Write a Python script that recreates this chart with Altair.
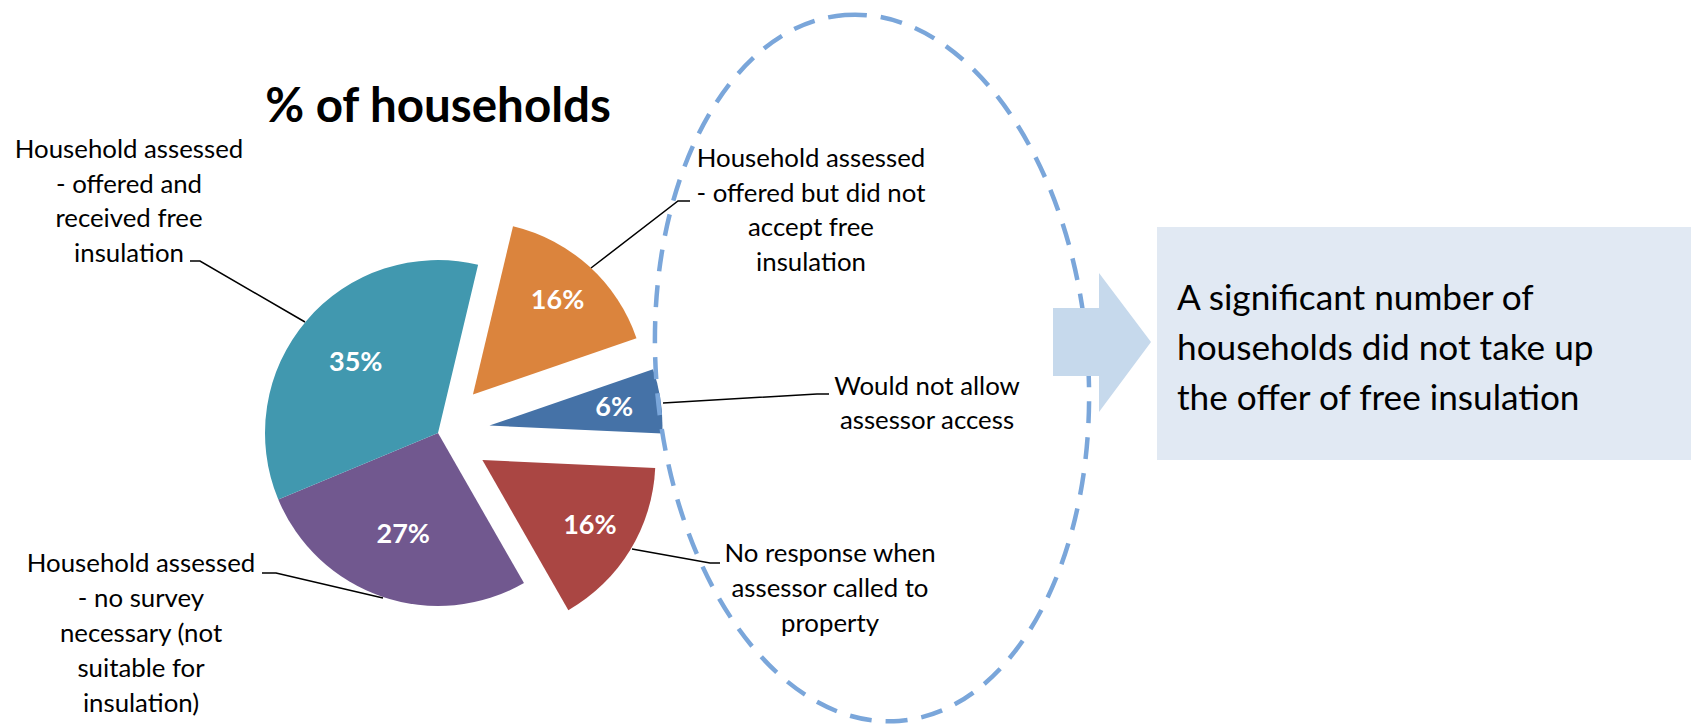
import math
import altair as alt
import pandas as pd

# ---------------- data ----------------
categories = [
    "Would not allow assessor access",
    "No response when assessor called to property",
    "Household assessed - no survey necessary (not suitable for insulation)",
    "Household assessed - offered and received free insulation",
    "Household assessed - offered but did not accept free insulation",
]
values = [6, 16, 27, 35, 16]
pct_labels = ["6%", "16%", "27%", "35%", "16%"]
exploded = [1, 1, 0, 0, 1]
colors = ["#4572A7", "#AA4643", "#71588F", "#4198AF", "#DB843D"]

label_lines = [
    ["Would not allow", "assessor access"],
    ["No response when", "assessor called to", "property"],
    ["Household assessed", "- no survey", "necessary (not", "suitable for", "insulation)"],
    ["Household assessed", "- offered and", "received free", "insulation"],
    ["Household assessed", "- offered but did not", "accept free", "insulation"],
]
title_text = "% of households"
callout_lines = ["A significant number of", "households did not take up", "the offer of free insulation"]

# ---------------- layout (pixels) ----------------
W, H = 1691, 726
CX, CY, R = 438, 433, 173
EXPLODE = 52
START = math.radians(71)
FONT = "Lato"

label_pos = [(927, 395), (830, 562), (141, 572), (129, 158), (811, 167)]
label_lh = [33.5, 35, 35, 34.7, 34.5]

leader_pts = [
    [(663, 403), (817, 394), (829, 394)],
    [(632, 549), (710, 563), (720, 563)],
    [(383, 598), (276, 573), (262, 573)],
    [(305, 322), (200, 261), (190, 261)],
    [(591, 268), (678, 201), (690, 201)],
]

# ---------------- pie ----------------
pie = pd.DataFrame({
    "idx": list(range(len(values))),
    "cat": categories,
    "value": values,
    "pct": pct_labels,
    "explode": exploded,
})

base = (
    alt.Chart(pie)
    .transform_window(cum="sum(value)", sort=[alt.SortField("idx")], frame=[None, 0])
    .transform_joinaggregate(total="sum(value)")
    .transform_calculate(mid=f"{START} + 2*PI*(datum.cum - datum.value/2)/datum.total")
    .transform_calculate(cx=f"{CX} + datum.explode*{EXPLODE}*sin(datum.mid)")
    .transform_calculate(cy=f"{CY} - datum.explode*{EXPLODE}*cos(datum.mid)")
    .transform_calculate(lr="108 + datum.explode*18")
    .transform_calculate(lx="datum.cx + datum.lr*sin(datum.mid)")
    .transform_calculate(ly="datum.cy - datum.lr*cos(datum.mid)")
)

theta = alt.Theta("value:Q", stack=True,
                  scale=alt.Scale(domain=[0, sum(values)], range=[START, START + 2 * math.pi]))

arcs = base.mark_arc(radius=R).encode(
    theta=theta,
    order=alt.Order("idx:Q"),
    color=alt.Color("cat:N", scale=alt.Scale(domain=categories, range=colors), legend=None),
    x=alt.X("cx:Q", scale=None, axis=None),
    y=alt.Y("cy:Q", scale=None, axis=None),
)

pct_text = base.mark_text(font=FONT, fontWeight="bold", fontSize=27, color="white",
                          align="center", baseline="middle").encode(
    text="pct:N",
    x=alt.X("lx:Q", scale=None, axis=None),
    y=alt.Y("ly:Q", scale=None, axis=None),
)

# ---------------- leader lines ----------------
lrows = []
for g, pts in enumerate(leader_pts):
    for s, (px, py) in enumerate(pts):
        lrows.append({"g": g, "s": s, "px": px, "py": py})
leaders = alt.Chart(pd.DataFrame(lrows)).mark_line(color="black", strokeWidth=1.5).encode(
    x=alt.X("px:Q", scale=None, axis=None),
    y=alt.Y("py:Q", scale=None, axis=None),
    detail="g:N",
    order="s:Q",
)

# ---------------- category labels ----------------
label_layers = []
for lines, (lx, ly), lh in zip(label_lines, label_pos, label_lh):
    label_layers.append(
        alt.Chart(pd.DataFrame({"t": ["\n".join(lines)], "px": [lx], "py": [ly]}))
        .mark_text(font=FONT, fontSize=25.8, lineBreak="\n", lineHeight=lh,
                   align="center", baseline="alphabetic", color="black")
        .encode(x=alt.X("px:Q", scale=None, axis=None), y=alt.Y("py:Q", scale=None, axis=None), text="t:N")
    )

one = pd.DataFrame({"a": [0]})

# ---------------- dashed ellipse ----------------
RX, RY, K = 216, 354, 0.5523
ell_path = (
    f"M 0,{-RY} C {K*RX:.1f},{-RY} {RX},{-K*RY:.1f} {RX},0 "
    f"C {RX},{K*RY:.1f} {K*RX:.1f},{RY} 0,{RY} "
    f"C {-K*RX:.1f},{RY} {-RX},{K*RY:.1f} {-RX},0 "
    f"C {-RX},{-K*RY:.1f} {-K*RX:.1f},{-RY} 0,{-RY} Z"
)
ellipse = alt.Chart(one).mark_point(
    shape=ell_path, size=4, filled=False, color="#7AA6DA", stroke="#7AA6DA",
    strokeWidth=4.5, strokeDash=[22, 14], angle=355.6, opacity=1,
).encode(x=alt.value(872), y=alt.value(368))

# ---------------- arrow + callout box ----------------
arrow_path = "M -47,-34 L -1,-34 L -1,-69 L 51,0 L -1,70 L -1,34 L -47,34 Z"
arrow = alt.Chart(one).mark_point(
    shape=arrow_path, size=4, filled=True, color="#C6D9EC", opacity=1, strokeWidth=0,
).encode(x=alt.value(1100), y=alt.value(342))

box = alt.Chart(one).mark_rect(color="#E1E9F3").encode(
    x=alt.value(1157), x2=alt.value(W), y=alt.value(227), y2=alt.value(460)
)
callout = alt.Chart(one).mark_text(
    text=callout_lines, font=FONT, fontSize=35.2, lineHeight=50,
    align="left", baseline="alphabetic", color="black",
).encode(x=alt.value(1177), y=alt.value(310))

title = alt.Chart(one).mark_text(
    text=title_text, font=FONT, fontSize=47.5, fontWeight="bold",
    align="center", baseline="alphabetic", color="black",
).encode(x=alt.value(438), y=alt.value(122))

chart = alt.layer(
    box, arcs, pct_text, leaders, *label_layers, ellipse, arrow, callout, title
).properties(
    width=W, height=H, padding=0, autosize=alt.AutoSizeParams(type="none"),
    background="white",
).configure_view(stroke=None)

chart.save("out.html", embed_options={"renderer": "svg", "actions": False})
